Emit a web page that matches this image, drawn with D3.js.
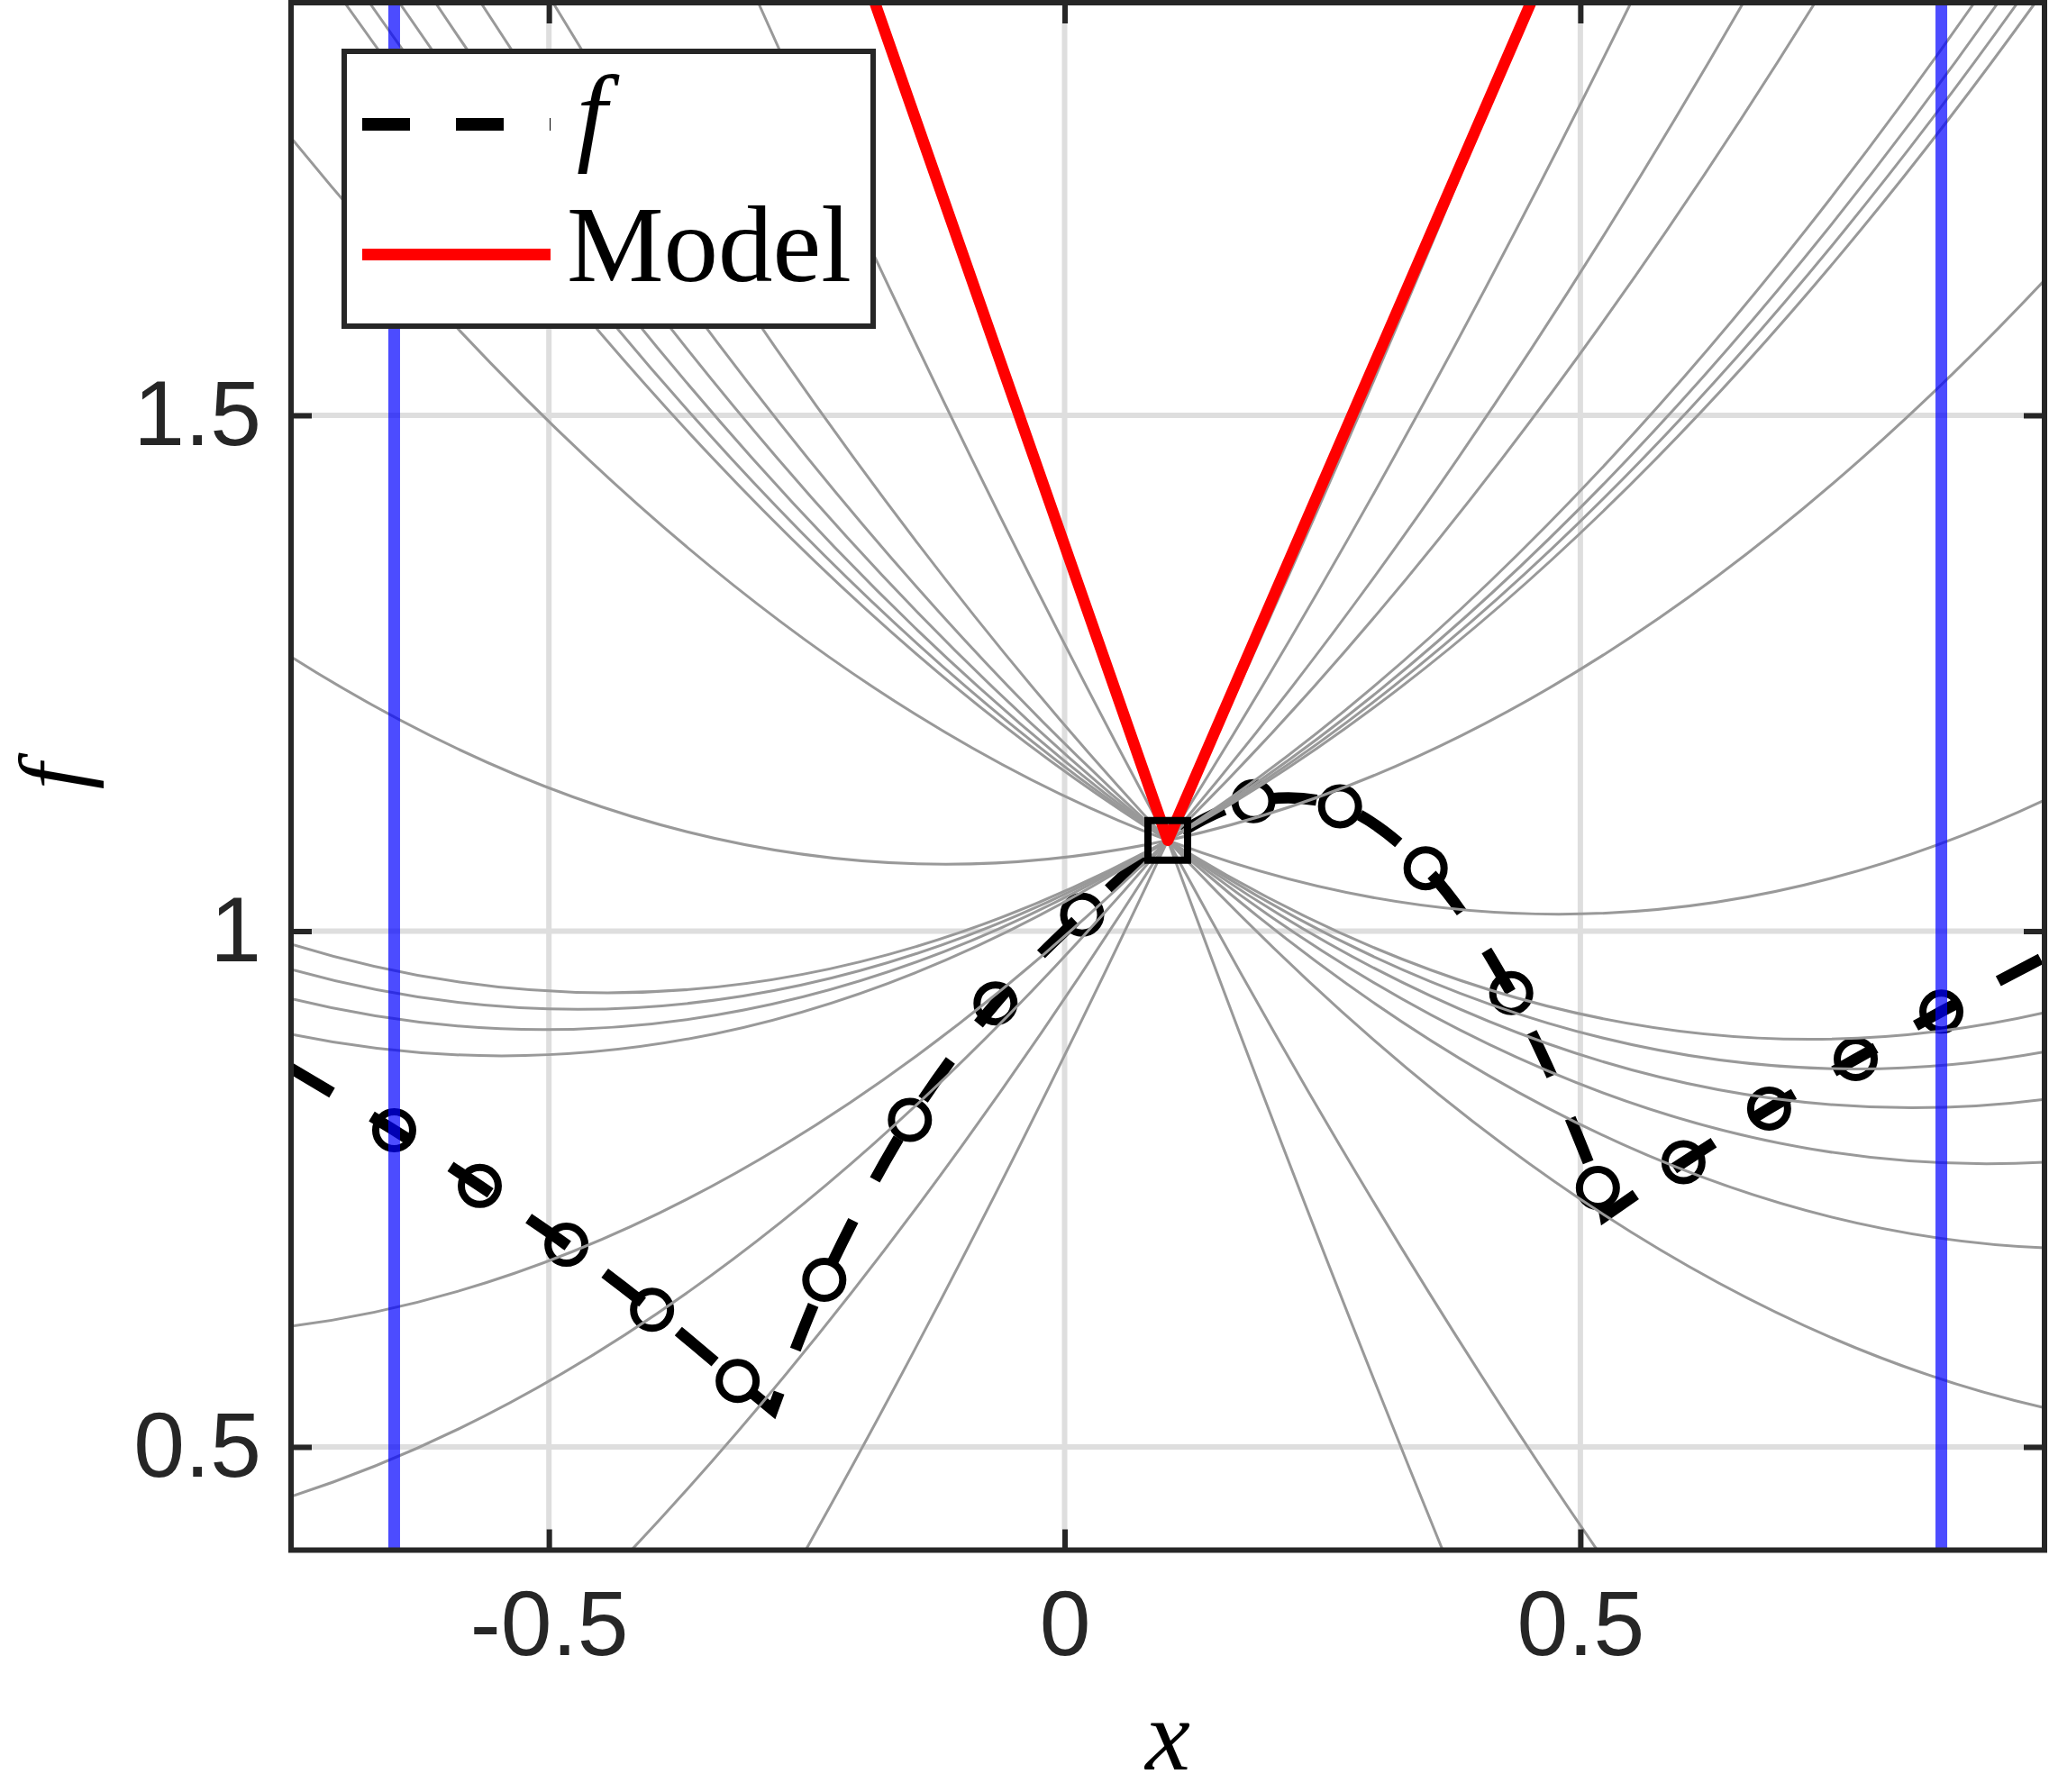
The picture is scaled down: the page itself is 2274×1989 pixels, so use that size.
<!DOCTYPE html>
<html>
<head>
<meta charset="utf-8">
<script src="https://cdn.jsdelivr.net/npm/d3@7"></script>
<style>
  body { margin: 0; background: #fff; }
  svg { display: block; }
</style>
</head>
<body>
<div id="chartContainer"></div>
<script>
// ---- data ----
const xTicks = [-0.5, 0, 0.5];
const xTickLabels = ["-0.5", "0", "0.5"];
const yTicks = [0.5, 1, 1.5];
const yTickLabels = ["0.5", "1", "1.5"];

// sampled points of f (circles), the center one is drawn as a square
const sampleX = [-0.65, -0.567, -0.483, -0.4, -0.317, -0.233, -0.15, -0.067, 0.017, 0.1,
                 0.183, 0.267, 0.35, 0.433, 0.517, 0.6, 0.683, 0.767, 0.85];
const sampleF = [0.807, 0.753, 0.696, 0.633, 0.564, 0.662, 0.817, 0.930, 1.016, 1.088,
                 1.126, 1.121, 1.061, 0.940, 0.751, 0.776, 0.828, 0.876, 0.922];
const centerIdx = 9;

// ends of f at the axes border and its two kinks
const edgeKinkX = [-0.75, -0.283, 0.524, 0.95];
const edgeKinkF = [0.867, 0.536, 0.724, 0.975];

// trust region bounds (blue)
const boundX = [-0.65, 0.85];

// red piecewise linear model
const modelX = [-0.184, 0.1, 0.452];
const modelF = [1.9, 1.088, 1.9];

// gray quadratic models: where each one meets the axes frame (left / right)
const quadLeftX  = [-0.698, -0.674, -0.645, -0.610, -0.566, -0.251, -0.420, -0.75, -0.75,
                    -0.75, -0.75, -0.496, -0.297, -0.184, -0.75, -0.75, -0.75, -0.75];
const quadLeftF  = [1.9, 1.9, 1.9, 1.9, 1.9, 0.4, 0.4, 0.452, 0.617,
                    1.266, 1.769, 1.9, 1.9, 1.9, 0.900, 0.9345, 0.963, 0.9875];
const quadRightX = [0.95, 0.95, 0.95, 0.95, 0.95, 0.452, 0.549, 0.658, 0.7275,
                    0.95, 0.95, 0.95, 0.5164, 0.3665, 0.882, 0.905, 0.924, 0.941];
const quadRightF = [0.921, 0.883, 0.837, 0.776, 0.693, 1.9, 1.9, 1.9, 1.9,
                    1.631, 1.127, 0.538, 0.4, 0.4, 1.9, 1.9, 1.9, 1.9];

// ---- layout ----
const width = 2274;
const height = 1989;
const pLeft = 323, pRight = 2269, pTop = 3, pBottom = 1720.5;
const ink = "#262626";

let svg = d3.select("#chartContainer")
            .append("svg")
            .attr("width", width)
            .attr("height", height);

let x = d3.scaleLinear().domain([-0.75, 0.95]).range([pLeft, pRight]);
let y = d3.scaleLinear().domain([0.4, 1.9]).range([pBottom, pTop]);

svg.append("defs").append("clipPath")
    .attr("id", "plotClip")
    .append("rect")
    .attr("x", pLeft).attr("y", pTop)
    .attr("width", pRight - pLeft).attr("height", pBottom - pTop);

// grid
svg.append("g").selectAll("line")
    .data(xTicks).join("line")
    .attr("x1", d => x(d)).attr("x2", d => x(d))
    .attr("y1", pTop).attr("y2", pBottom)
    .attr("stroke", "#dedede").attr("stroke-width", 6);
svg.append("g").selectAll("line")
    .data(yTicks).join("line")
    .attr("y1", d => y(d)).attr("y2", d => y(d))
    .attr("x1", pLeft).attr("x2", pRight)
    .attr("stroke", "#dedede").attr("stroke-width", 6);

let plot = svg.append("g").attr("clip-path", "url(#plotClip)");

// f as a dashed line, smooth pieces joined at the kinks
let pts = sampleX.map((d, i) => ({x: d, f: sampleF[i]}))
    .concat(edgeKinkX.map((d, i) => ({x: d, f: edgeKinkF[i]})))
    .sort((a, b) => a.x - b.x);
let k1 = edgeKinkX[1], k2 = edgeKinkX[2];
let pieces = [
    pts.filter(p => p.x <= k1),
    pts.filter(p => p.x >= k1 && p.x <= k2),
    pts.filter(p => p.x >= k2)
];
let fLine = d3.line().x(d => x(d.x)).y(d => y(d.f)).curve(d3.curveCatmullRom.alpha(0.5));
let fPath = pieces.map((p, i) => {
    let s = fLine(p);
    return i ? s.replace(/^M/, "L") : s;
}).join("");

plot.append("path")
    .attr("d", fPath)
    .attr("fill", "none")
    .attr("stroke", "#000")
    .attr("stroke-width", 12.5)
    .attr("stroke-dasharray", "53 51");

plot.append("g").selectAll("circle")
    .data(sampleX.map((d, i) => ({x: d, f: sampleF[i]})).filter((d, i) => i !== centerIdx))
    .join("circle")
    .attr("cx", d => x(d.x))
    .attr("cy", d => y(d.f))
    .attr("r", 20.5)
    .attr("fill", "none")
    .attr("stroke", "#000")
    .attr("stroke-width", 8);

// gray quadratic models, each a parabola through its two frame points and the center
let cx = x(sampleX[centerIdx]), cy = y(sampleF[centerIdx]);
plot.append("g").selectAll("path")
    .data(quadLeftX.map((d, i) => [d, quadLeftF[i], quadRightX[i], quadRightF[i]]))
    .join("path")
    .attr("d", d => {
        let x0 = x(d[0]), y0 = y(d[1]), x2 = x(d[2]), y2 = y(d[3]);
        let t = (cx - x0) / (x2 - x0);
        let qx = (x0 + x2) / 2;
        let qy = (cy - (1 - t) * (1 - t) * y0 - t * t * y2) / (2 * t * (1 - t));
        let p = d3.path();
        p.moveTo(x0, y0);
        p.quadraticCurveTo(qx, qy, x2, y2);
        return p.toString();
    })
    .attr("fill", "none")
    .attr("stroke", "#999")
    .attr("stroke-width", 3);

// red model
plot.append("path")
    .attr("d", d3.line().x(d => x(d[0])).y(d => y(d[1]))(modelX.map((d, i) => [d, modelF[i]])))
    .attr("fill", "none")
    .attr("stroke", "#ff0000")
    .attr("stroke-width", 12.5)
    .attr("stroke-linejoin", "round");

// current point
plot.append("rect")
    .attr("x", cx - 22).attr("y", cy - 22)
    .attr("width", 44).attr("height", 44)
    .attr("fill", "none")
    .attr("stroke", "#000")
    .attr("stroke-width", 8);

// trust region bounds
plot.append("g").selectAll("line")
    .data(boundX).join("line")
    .attr("x1", d => x(d)).attr("x2", d => x(d))
    .attr("y1", pTop).attr("y2", pBottom)
    .attr("stroke", "rgba(0,0,255,0.7)")
    .attr("stroke-width", 13);

// ---- axes ----
let fontSans = "'Liberation Sans', Arial, Helvetica, sans-serif";
let fontSerif = "'Liberation Serif', 'Times New Roman', serif";

let xAxis = d3.axisBottom(x).tickValues(xTicks)
    .tickFormat((d, i) => xTickLabels[i]).tickSizeInner(-23).tickSizeOuter(0).tickPadding(44);
let yAxis = d3.axisLeft(y).tickValues(yTicks)
    .tickFormat((d, i) => yTickLabels[i]).tickSizeInner(-23).tickSizeOuter(0).tickPadding(33);

let gx = svg.append("g").attr("transform", `translate(0,${pBottom})`).call(xAxis);
let gy = svg.append("g").attr("transform", `translate(${pLeft},0)`).call(yAxis);
let gxt = svg.append("g").attr("transform", `translate(0,${pTop})`)
    .call(d3.axisTop(x).tickValues(xTicks).tickFormat("").tickSizeInner(-23).tickSizeOuter(0));
let gyr = svg.append("g").attr("transform", `translate(${pRight},0)`)
    .call(d3.axisRight(y).tickValues(yTicks).tickFormat("").tickSizeInner(-23).tickSizeOuter(0));

[gx, gy, gxt, gyr].forEach(g => {
    g.select(".domain").remove();
    g.selectAll(".tick line").attr("stroke", ink).attr("stroke-width", 6);
    g.selectAll(".tick text")
        .attr("fill", ink)
        .style("font-family", fontSans)
        .style("font-size", "102px");
});

// axes box
svg.append("rect")
    .attr("x", pLeft).attr("y", pTop)
    .attr("width", pRight - pLeft).attr("height", pBottom - pTop)
    .attr("fill", "none")
    .attr("stroke", ink)
    .attr("stroke-width", 6);

// axis labels
svg.append("text")
    .attr("x", (pLeft + pRight) / 2).attr("y", 1964)
    .attr("text-anchor", "middle")
    .style("font-family", fontSerif).style("font-style", "italic").style("font-size", "112px")
    .text("x");
svg.append("text")
    .attr("transform", `translate(93,${(pTop + pBottom) / 2}) rotate(-90)`)
    .attr("text-anchor", "middle")
    .style("font-family", fontSerif).style("font-style", "italic").style("font-size", "104px")
    .text("f");

// ---- legend ----
let legend = svg.append("g");
legend.append("rect")
    .attr("x", 382).attr("y", 57).attr("width", 587).attr("height", 305)
    .attr("fill", "#fff").attr("stroke", ink).attr("stroke-width", 6);
legend.append("line")
    .attr("x1", 402).attr("x2", 611).attr("y1", 138).attr("y2", 138)
    .attr("stroke", "#000").attr("stroke-width", 14).attr("stroke-dasharray", "53 51");
legend.append("line")
    .attr("x1", 402).attr("x2", 611).attr("y1", 282.5).attr("y2", 282.5)
    .attr("stroke", "#ff0000").attr("stroke-width", 13);
legend.append("text")
    .attr("x", 640).attr("y", 167)
    .style("font-family", fontSerif).style("font-style", "italic").style("font-size", "121px")
    .text("f");
legend.append("text")
    .attr("x", 629).attr("y", 312)
    .style("font-family", fontSerif).style("font-size", "121px")
    .text("Model");
</script>
</body>
</html>
